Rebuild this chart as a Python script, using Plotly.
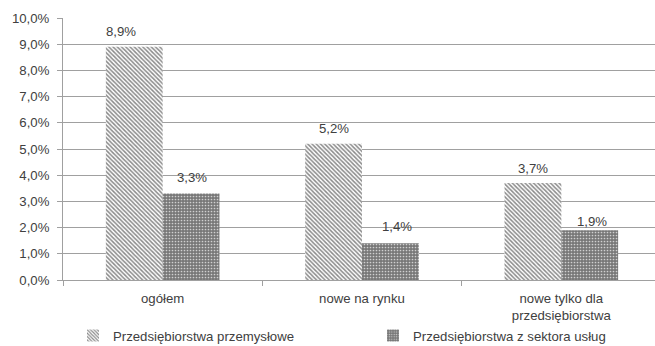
import plotly.graph_objects as go

categories = ["ogółem", "nowe na rynku", "nowe tylko dla<br>przedsiębiorstwa"]
series_names = ["Przedsiębiorstwa przemysłowe", "Przedsiębiorstwa z sektora usług"]
industry = [0.089, 0.052, 0.037]
services = [0.033, 0.014, 0.019]
y_ticks = [i / 100 for i in range(0, 11)]

# hand-placed label nudges (px): (xshift, height of label centre above bar top)
industry_label_nudge = [(-13, 15), (0, 15), (0, 15)]
services_label_nudge = [(1, 16), (7, 17), (2, 9)]

TEXT = "#404040"
FONT = dict(family="Liberation Sans, Arial, sans-serif", size=13.2, color=TEXT)
BARGAP = 0.43
HALF_BAR = (1 - BARGAP) / 4  # centre offset of each bar inside its group

# plot area in pixels: left 63, width 592, top 18, bottom 280
PLOT_L, PLOT_W, PLOT_B, PLOT_H = 63, 592, 280, 262

fig = go.Figure()
fig.add_trace(go.Bar(
    name=series_names[0], x=categories, y=industry, legend="legend",
    marker=dict(color="white", line=dict(width=0),
                pattern=dict(shape="\\", fgcolor="#8a8a8a", bgcolor="white",
                             size=3, solidity=0.5, fillmode="replace")),
))
fig.add_trace(go.Bar(
    name=series_names[1], x=categories, y=services, legend="legend2",
    marker=dict(color="#7a7a7a", line=dict(width=0),
                pattern=dict(shape=".", fgcolor="#d0d0d0", bgcolor="#787878",
                             size=3, solidity=0.25, fillmode="replace")),
))

# value labels above each bar
annotations = []
for values, nudges, sign in ((industry, industry_label_nudge, -1),
                             (services, services_label_nudge, 1)):
    for i, (v, (dx, dy)) in enumerate(zip(values, nudges)):
        annotations.append(dict(
            x=i + sign * HALF_BAR, y=v, xref="x", yref="y",
            text=f"{v * 100:.1f}%".replace(".", ","),
            showarrow=False, xanchor="center", yanchor="middle",
            xshift=dx, yshift=dy, font=FONT,
        ))


def legend_at(px_x):
    return dict(orientation="h", x=(px_x - PLOT_L) / PLOT_W, xanchor="left",
                y=(PLOT_B - 336) / PLOT_H, yanchor="middle",
                itemwidth=30, font=FONT, bgcolor="rgba(0,0,0,0)")


fig.update_layout(
    width=655, height=346,
    margin=dict(l=PLOT_L, r=655 - PLOT_L - PLOT_W, t=18, b=346 - PLOT_B, autoexpand=False),
    paper_bgcolor="white", plot_bgcolor="white",
    separators=", ",
    barmode="group", bargap=BARGAP, bargroupgap=0,
    font=FONT,
    showlegend=True,
    legend=legend_at(73),
    legend2=legend_at(373),
    annotations=annotations,
    xaxis=dict(range=[-0.5, 2.47], showline=True, linecolor="#a0a0a0", linewidth=1,
               ticks="outside", tickson="boundaries", ticklen=5, tickcolor="#a0a0a0",
               ticklabelstandoff=6, showgrid=False, tickfont=FONT),
    yaxis=dict(range=[0, 0.1], tickvals=y_ticks, tickformat=".1%",
               showline=True, linecolor="#a0a0a0", linewidth=1,
               ticks="outside", ticklen=5, tickcolor="#a0a0a0", ticklabelstandoff=5,
               showgrid=True, gridcolor="#a0a0a0", gridwidth=1,
               zeroline=False, tickfont=FONT),
)

fig.write_html("out.html")
